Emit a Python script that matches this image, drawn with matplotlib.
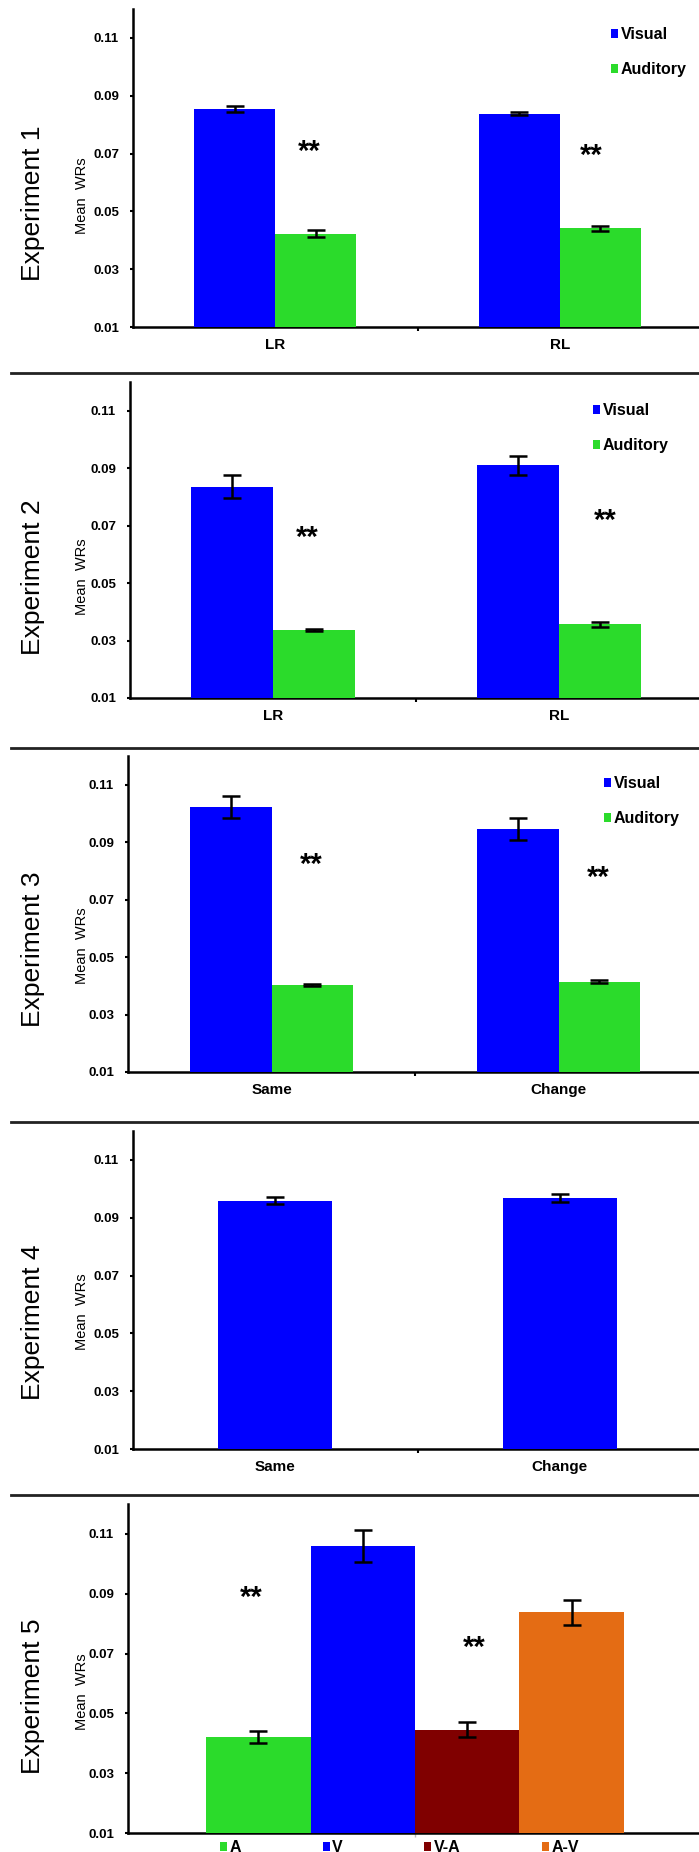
import numpy as np
import matplotlib.pyplot as plt
from matplotlib.lines import Line2D

plt.rcParams['font.family'] = ['Liberation Sans', 'DejaVu Sans']

W, H = 699, 1852
DPI = 100

# ---- data ----
yticks = [0.01, 0.03, 0.05, 0.07, 0.09, 0.11]
ytick_labels = ['0.01', '0.03', '0.05', '0.07', '0.09', '0.11']

exp1_groups = ['LR', 'RL']
exp1_visual = [0.0855, 0.0837]
exp1_visual_err = [0.0011, 0.0005]
exp1_auditory = [0.0422, 0.0441]
exp1_auditory_err = [0.0012, 0.0010]
exp1_stars = [(0.12, 0.0723), (1.11, 0.0709)]

exp2_groups = ['LR', 'RL']
exp2_visual = [0.0836, 0.0910]
exp2_visual_err = [0.0039, 0.0034]
exp2_auditory = [0.0336, 0.0356]
exp2_auditory_err = [0.0004, 0.0010]
exp2_stars = [(0.12, 0.0674), (1.16, 0.0734)]

exp3_groups = ['Same', 'Change']
exp3_visual = [0.1022, 0.0947]
exp3_visual_err = [0.0039, 0.0038]
exp3_auditory = [0.0403, 0.0415]
exp3_auditory_err = [0.0004, 0.0004]
exp3_stars = [(0.14, 0.0838), (1.14, 0.0792)]

exp4_groups = ['Same', 'Change']
exp4_visual = [0.0959, 0.0968]
exp4_visual_err = [0.0011, 0.0013]

exp5_conditions = ['A', 'V', 'V-A', 'A-V']
exp5_values = [0.0421, 0.1060, 0.0446, 0.0838]
exp5_err = [0.0021, 0.0054, 0.0024, 0.0042]
exp5_stars = [(-0.285, 0.0903), (0.103, 0.0736)]

BLUE = '#0000FF'
GREEN = '#2BDB2B'
DARKRED = '#800000'
ORANGE = '#E46C14'
exp5_colors = [GREEN, BLUE, DARKRED, ORANGE]

# ---- layout in pixels: left, top, right, bottom ----
panel_px = [
    (133, 9, 702, 327),
    (130, 382, 702, 698),
    (128, 756, 702, 1072),
    (133, 1131, 702, 1449),
    (128, 1504, 702, 1833),
]
ylabel_y_px = [196, 577, 946, 1312, 1692]
exp_label_y_px = [203, 577, 949, 1322, 1696]
legend_px = [(611, 27), (593, 403), (604, 776)]
separator_y_px = [373, 748, 1122, 1495]

fig = plt.figure(figsize=(W / DPI, H / DPI), dpi=DPI)


def px_axes(left, top, right, bottom):
    return fig.add_axes([left / W, 1 - bottom / H, (right - left) / W, (bottom - top) / H])


def style_axis(ax, i):
    left, top, right, bottom = panel_px[i]
    for s in ['top', 'right']:
        ax.spines[s].set_visible(False)
    for s in ['left', 'bottom']:
        ax.spines[s].set_linewidth(1.8)
    ax.set_ylim(0.01, 0.12)
    ax.set_yticks(yticks)
    ax.set_yticklabels(ytick_labels, fontsize=9.5, fontweight='bold')
    ax.tick_params(axis='y', length=2.5, width=1.5, pad=7.5)
    ax.set_ylabel('Mean  WRs', fontsize=10.5)
    ax.yaxis.set_label_coords((89 - left) / (right - left),
                              (bottom - ylabel_y_px[i]) / (bottom - top))
    fig.text(33 / W, 1 - exp_label_y_px[i] / H, 'Experiment %d' % (i + 1),
             rotation=90, ha='center', va='center', fontsize=19)


def cat_ticks(ax, labels):
    ax.set_xlim(-0.5, len(labels) - 0.5)
    ax.set_xticks(range(len(labels)))
    ax.set_xticklabels(labels, fontsize=11, fontweight='bold')
    ax.tick_params(axis='x', which='major', length=0, pad=8)
    ax.set_xticks(np.arange(0.5, len(labels) - 0.5), minor=True)
    ax.tick_params(axis='x', which='minor', length=3, width=1.5)


def add_stars(ax, stars):
    # asterisks sit high in the glyph box, so anchor on the baseline and shift down
    for sx, sy in stars:
        ax.annotate('**', (sx, sy), xytext=(0, -9.5), textcoords='offset points',
                    ha='center', va='baseline', fontsize=21, fontweight='bold')


def err(ax, x, y, e):
    ax.errorbar(x, y, yerr=e, fmt='none', ecolor='black', elinewidth=1.8,
                capsize=6.5, capthick=1.8, zorder=4)


# experiments 1-3: visual vs auditory
two_series = [
    (exp1_groups, exp1_visual, exp1_visual_err, exp1_auditory, exp1_auditory_err, exp1_stars),
    (exp2_groups, exp2_visual, exp2_visual_err, exp2_auditory, exp2_auditory_err, exp2_stars),
    (exp3_groups, exp3_visual, exp3_visual_err, exp3_auditory, exp3_auditory_err, exp3_stars),
]
bw = 0.285
for i, (groups, vis, vis_e, aud, aud_e, stars) in enumerate(two_series):
    ax = px_axes(*panel_px[i])
    x = np.arange(len(groups))
    ax.bar(x - bw / 2, vis, bw, bottom=0, color=BLUE, label='Visual', zorder=3)
    ax.bar(x + bw / 2, aud, bw, bottom=0, color=GREEN, label='Auditory', zorder=3)
    err(ax, x - bw / 2, vis, vis_e)
    err(ax, x + bw / 2, aud, aud_e)
    style_axis(ax, i)
    cat_ticks(ax, groups)
    add_stars(ax, stars)
    left, top, right, bottom = panel_px[i]
    lx, ly = legend_px[i]
    ax.legend(loc='upper left',
              bbox_to_anchor=((lx - left) / (right - left), (bottom - ly) / (bottom - top)),
              frameon=False, borderpad=0, borderaxespad=0, handlelength=0.45,
              handleheight=0.45, handletextpad=0.15, labelspacing=1.25,
              prop={'weight': 'bold', 'size': 11.5})

# experiment 4: visual only
ax = px_axes(*panel_px[3])
x = np.arange(len(exp4_groups))
ax.bar(x, exp4_visual, 0.40, color=BLUE, zorder=3)
err(ax, x, exp4_visual, exp4_visual_err)
style_axis(ax, 3)
cat_ticks(ax, exp4_groups)

# experiment 5: four conditions in one cluster
ax = px_axes(*panel_px[4])
w5 = 0.182
x5 = (np.arange(len(exp5_conditions)) - 1.5) * w5
for xi, v, c, lab in zip(x5, exp5_values, exp5_colors, exp5_conditions):
    ax.bar(xi, v, w5, color=c, label=lab, zorder=3)
err(ax, x5, exp5_values, exp5_err)
style_axis(ax, 4)
ax.set_xlim(-0.5, 0.5)
ax.set_xticks([0])
ax.set_xticklabels([''])
ax.tick_params(axis='x', length=3, width=1.0, color='#bbbbbb')
add_stars(ax, exp5_stars)
left, top, right, bottom = panel_px[4]
ax.legend(loc='upper left',
          bbox_to_anchor=((220 - left) / (right - left), (bottom - 1840) / (bottom - top)),
          ncol=4, frameon=False, borderpad=0, borderaxespad=0, handlelength=0.45,
          handleheight=0.45, handletextpad=0.15, columnspacing=5.1,
          prop={'weight': 'bold', 'size': 11.5})

# panel separators
for yy in separator_y_px:
    fig.add_artist(Line2D([11 / W, 1.0], [1 - yy / H, 1 - yy / H],
                          color='#222222', linewidth=2.0))

fig.savefig('out.png', dpi=DPI)
